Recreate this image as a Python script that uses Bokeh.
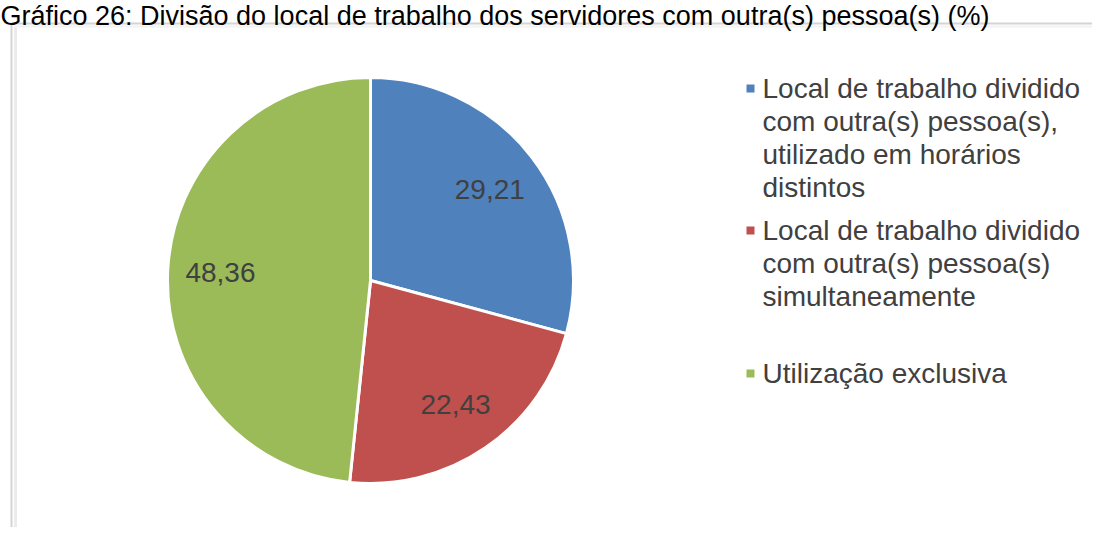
import math
from bokeh.plotting import figure
from bokeh.models import Range1d, ColumnDataSource
from bokeh.core.properties import value
from bokeh.embed import file_html
from bokeh.resources import INLINE

title_text = "Gráfico 26: Divisão do local de trabalho dos servidores com outra(s) pessoa(s) (%)"
categories = [
    "Local de trabalho dividido\ncom outra(s) pessoa(s),\nutilizado em horários\ndistintos",
    "Local de trabalho dividido\ncom outra(s) pessoa(s)\nsimultaneamente",
    "Utilização exclusiva",
]
values = [29.21, 22.43, 48.36]
value_labels = ["29,21", "22,43", "48,36"]
colors = ["#4F81BD", "#C0504D", "#9BBB59"]

W, H = 1092, 527
FONT = "Liberation Sans"

def X(sx):
    return sx

def Y(sy):
    return H - sy

p = figure(width=W, height=H, output_backend="svg", toolbar_location=None,
           x_range=Range1d(0, W), y_range=Range1d(0, H),
           x_axis_location=None, y_axis_location=None, min_border=0)
p.grid.visible = False
p.outline_line_color = None
p.background_fill_color = "white"
p.border_fill_color = "white"

# chart frame (top and left edges, with soft shadow)
p.segment(x0=[X(10), X(11)], y0=[Y(23), Y(23)], x1=[X(W), X(11)], y1=[Y(23), Y(H)],
          line_color="#D4D4D4", line_width=2)
p.segment(x0=[X(15)], y0=[Y(26)], x1=[X(15)], y1=[Y(H)], line_color="#EBEBEB", line_width=3)
p.segment(x0=[X(14)], y0=[Y(26)], x1=[X(W)], y1=[Y(26)], line_color="#F2F2F2", line_width=2)

# title
p.text(x=[X(0)], y=[Y(0)], text=[title_text], text_font=value(FONT),
       text_font_size="27px", text_color="#000000", text_baseline="top", text_align="left")

# pie
cx, cy, R = X(370), Y(280), 203
total = sum(values)
starts, ends, lx, ly = [], [], [], []
cum = 0.0
for v in values:
    a0 = math.pi / 2 - 2 * math.pi * cum / total
    a1 = math.pi / 2 - 2 * math.pi * (cum + v) / total
    starts.append(a0)
    ends.append(a1)
    mid = (a0 + a1) / 2
    lx.append(cx + 0.74 * R * math.cos(mid))
    ly.append(cy + 0.74 * R * math.sin(mid))
    cum += v

src = ColumnDataSource(dict(start=starts, end=ends, color=colors, lx=lx, ly=ly, lab=value_labels))
p.wedge(x=cx, y=cy, radius=R, start_angle="start", end_angle="end", direction="clock",
        fill_color="color", line_color="white", line_width=3, source=src)
p.text(x="lx", y="ly", text="lab", source=src, text_font=value(FONT), text_font_size="28px",
       text_color="#404040", text_align="center", text_baseline="middle")

# legend
item_tops = [88, 230, 373]
line_h = 33
sq_x, sq_y, tx, ty, tt = [], [], [], [], []
for cat, top in zip(categories, item_tops):
    sq_x.append(X(750))
    sq_y.append(Y(top))
    for i, line in enumerate(cat.split("\n")):
        tx.append(X(762))
        ty.append(Y(top + i * line_h))
        tt.append(line)
p.rect(x=sq_x, y=sq_y, width=8, height=8, fill_color=colors, line_color=None)
p.text(x=tx, y=ty, text=tt, text_font=value(FONT), text_font_size="28px",
       text_color="#404040", text_align="left", text_baseline="middle")

open("out.html", "w").write(file_html(p, INLINE))
